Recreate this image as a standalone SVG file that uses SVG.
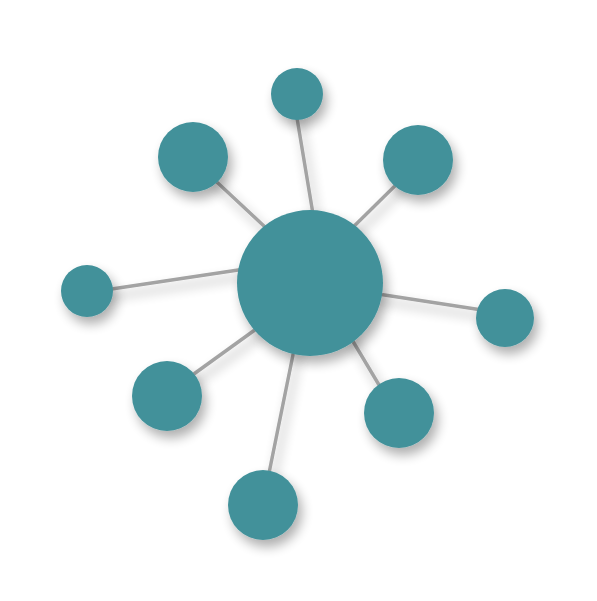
<svg xmlns="http://www.w3.org/2000/svg" width="597" height="601" viewBox="0 0 597 601">
<style>
.edge{stroke:#a3a3a3;stroke-width:3.5;fill:none}
.node{fill:#42919a}
</style>
<defs>
<filter id="sh" x="-60%" y="-60%" width="220%" height="220%">
<feGaussianBlur in="SourceAlpha" stdDeviation="6"/>
<feOffset dx="4" dy="7" result="b"/>
<feComponentTransfer><feFuncA type="linear" slope="0.32"/></feComponentTransfer>
<feMerge><feMergeNode/><feMergeNode in="SourceGraphic"/></feMerge>
</filter>
</defs>
<rect width="597" height="601" fill="#ffffff"/>
<g id="connectors" filter="url(#sh)">
<line class="edge" x1="294" y1="100" x2="316" y2="232"/>
<line class="edge" x1="205" y1="171" x2="280" y2="241"/>
<line class="edge" x1="405" y1="176" x2="340" y2="240"/>
<line class="edge" x1="95" y1="291.6" x2="260" y2="266.7"/>
<line class="edge" x1="365" y1="292" x2="495" y2="312"/>
<line class="edge" x1="180" y1="384" x2="270" y2="319"/>
<line class="edge" x1="345" y1="328" x2="388" y2="400"/>
<line class="edge" x1="297" y1="335" x2="266" y2="488"/>
</g>
<g id="n-top" filter="url(#sh)"><circle class="node" cx="297" cy="94" r="26"/></g>
<g id="n-upper-left" filter="url(#sh)"><circle class="node" cx="193" cy="157" r="35"/></g>
<g id="n-upper-right" filter="url(#sh)"><circle class="node" cx="418" cy="160" r="35"/></g>
<g id="n-left" filter="url(#sh)"><circle class="node" cx="87" cy="291" r="26"/></g>
<g id="n-right" filter="url(#sh)"><circle class="node" cx="505" cy="318" r="29"/></g>
<g id="n-lower-left" filter="url(#sh)"><circle class="node" cx="167" cy="396" r="35"/></g>
<g id="n-lower-right" filter="url(#sh)"><circle class="node" cx="399" cy="413" r="35"/></g>
<g id="n-bottom" filter="url(#sh)"><circle class="node" cx="263" cy="505" r="35"/></g>
<g id="n-center" filter="url(#sh)"><circle class="node" cx="310" cy="283" r="73"/></g>
</svg>
